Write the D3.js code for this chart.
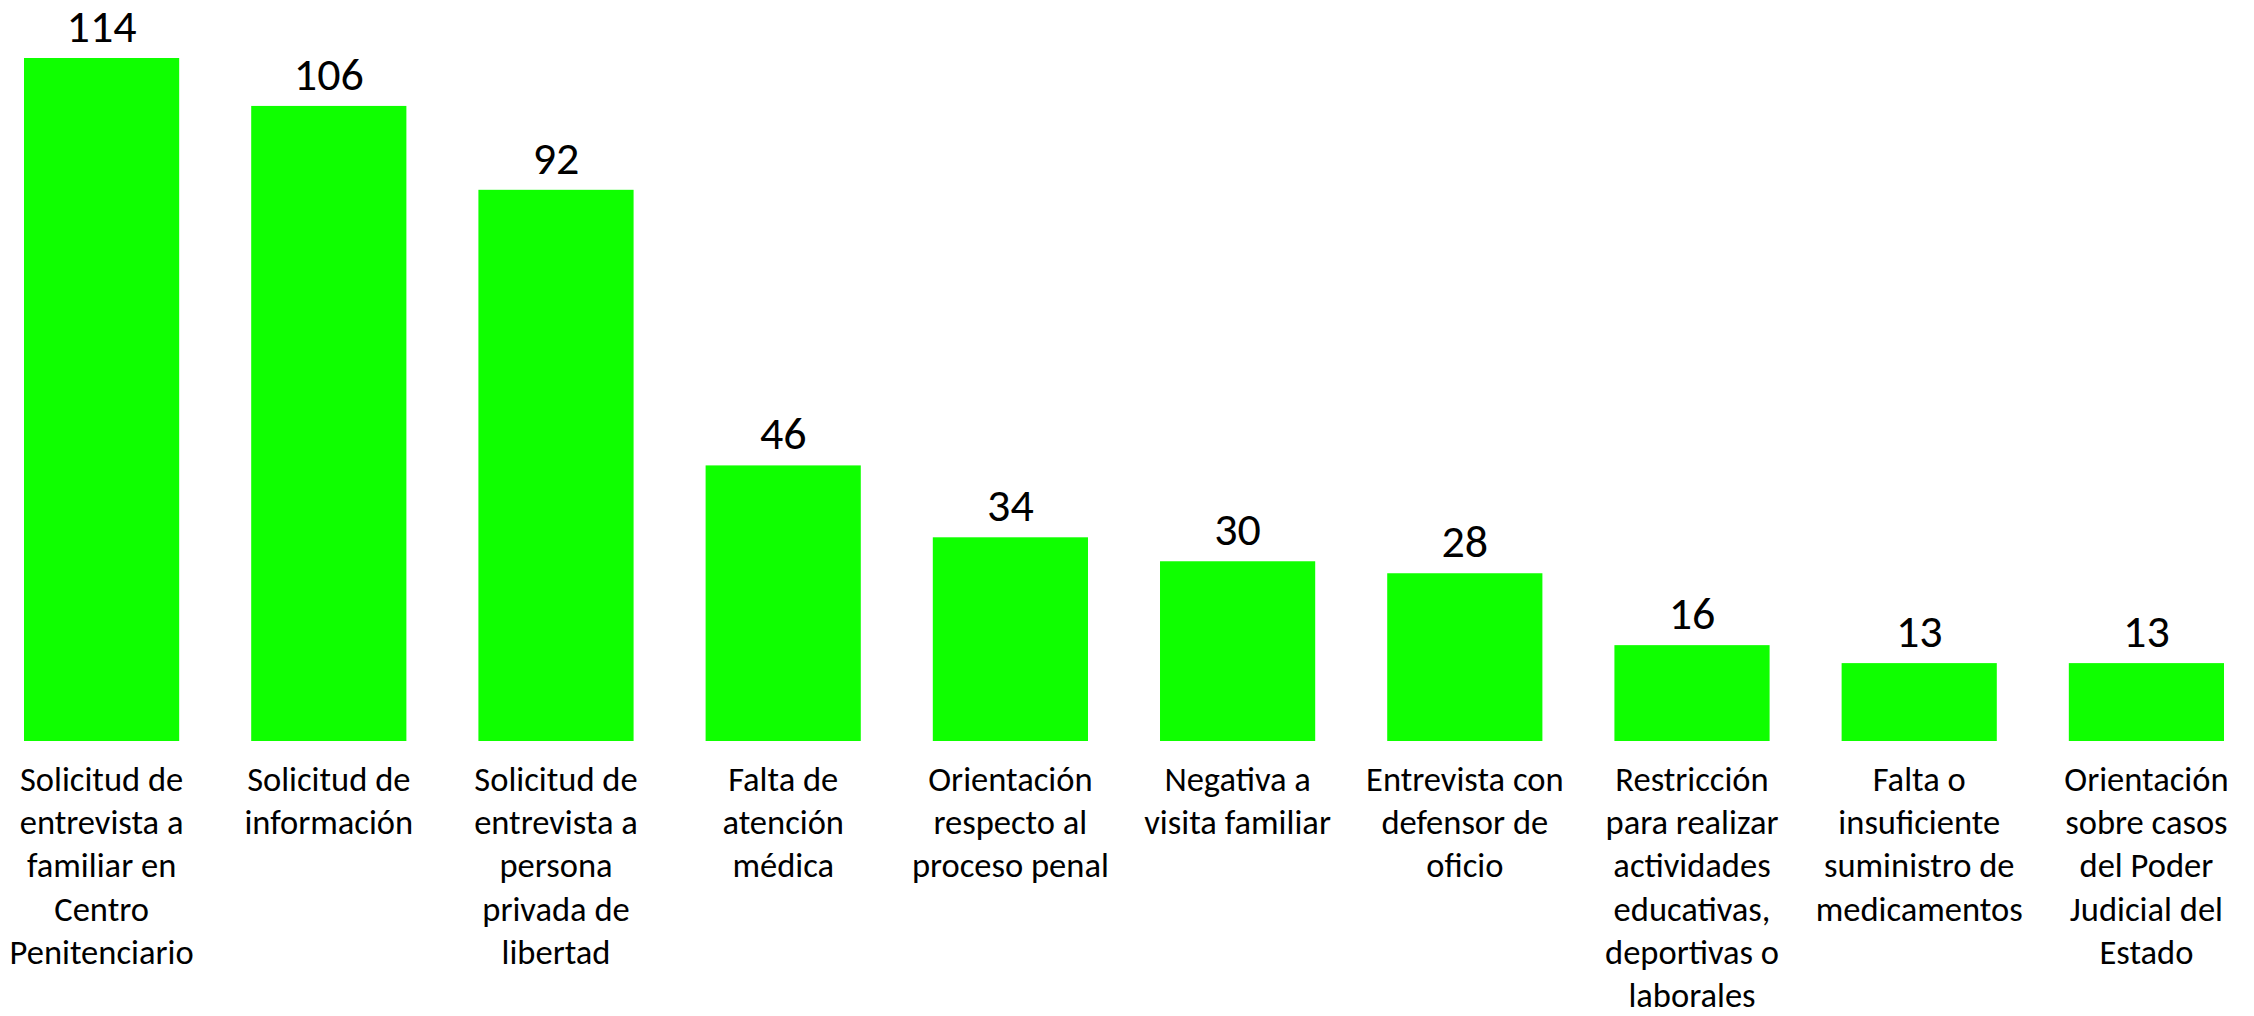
<!DOCTYPE html>
<html>
<head>
<meta charset="utf-8">
<script src="https://cdn.jsdelivr.net/npm/d3@7"></script>
<style>
    body { margin: 0; background: #fff; }
    text { font-family: Carlito, Calibri, Lato, sans-serif; fill: #000; }
</style>
</head>
<body>
<div id="chart"></div>
<script>
const categories = [
    'Solicitud de\nentrevista a\nfamiliar en\nCentro\nPenitenciario',
    'Solicitud de\ninformación',
    'Solicitud de\nentrevista a\npersona\nprivada de\nlibertad',
    'Falta de\natención\nmédica',
    'Orientación\nrespecto al\nproceso penal',
    'Negativa a\nvisita familiar',
    'Entrevista con\ndefensor de\noficio',
    'Restricción\npara realizar\nactividades\neducativas,\ndeportivas o\nlaborales',
    'Falta o\ninsuficiente\nsuministro de\nmedicamentos',
    'Orientación\nsobre casos\ndel Poder\nJudicial del\nEstado'
];
const values = [114, 106, 92, 46, 34, 30, 28, 16, 13, 13];

const w = 2254;
const h = 1016;
const baseY = 741;

const svg = d3.select('#chart')
    .append('svg')
    .attr('width', w)
    .attr('height', h);

const x = d3.scaleBand()
    .domain(d3.range(categories.length))
    .range([24, 2224])
    .paddingInner(0.317)
    .paddingOuter(0);

const y = d3.scaleLinear()
    .domain([0, 114])
    .range([baseY, 58]);

svg.selectAll('rect.bar')
    .data(values)
    .enter()
    .append('rect')
    .attr('class', 'bar')
    .attr('x', (d, i) => x(i))
    .attr('y', (d) => y(d))
    .attr('width', x.bandwidth())
    .attr('height', (d) => y(0) - y(d))
    .attr('fill', '#0fff00');

svg.selectAll('text.val')
    .data(values)
    .enter()
    .append('text')
    .attr('class', 'val')
    .attr('x', (d, i) => x(i) + x.bandwidth() / 2)
    .attr('y', (d) => y(d) - 16)
    .attr('text-anchor', 'middle')
    .style('font-size', '46px')
    .text((d) => d);

// category labels, wrapped on the given line breaks
const labels = svg.selectAll('text.cat')
    .data(categories)
    .enter()
    .append('text')
    .attr('class', 'cat')
    .attr('text-anchor', 'middle')
    .attr('transform', (d, i) => `translate(${x(i) + x.bandwidth() / 2},${baseY + 50})`)
    .style('font-size', '34.5px');

labels.selectAll('tspan')
    .data((d) => d.split('\n'))
    .enter()
    .append('tspan')
    .attr('x', 0)
    .attr('y', (d, i) => i * 43.2)
    .text((d) => d);
</script>
</body>
</html>
